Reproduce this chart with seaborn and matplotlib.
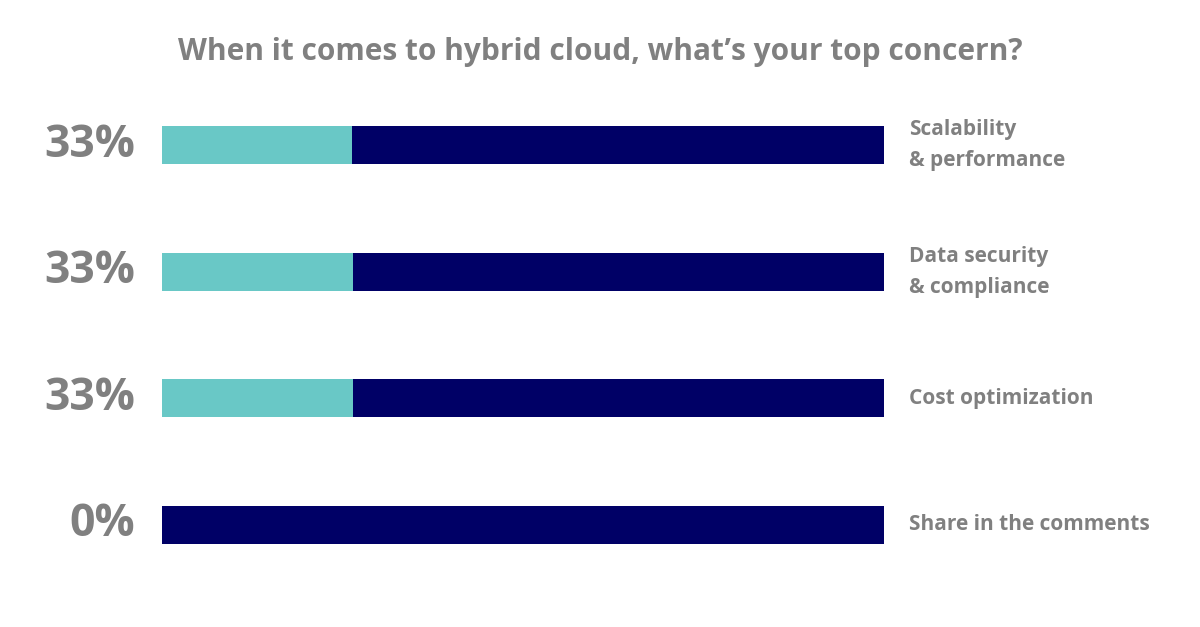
import pandas as pd
import matplotlib.pyplot as plt
import seaborn as sns

# poll answers
answers = ["Scalability\n& performance", "Data security\n& compliance",
           "Cost optimization", "Share in the comments"]
pct_labels = [33, 33, 33, 0]
# teal fill length as drawn in the picture (share of the full bar)
fill = [26.3, 26.5, 26.5, 0]
track = [100, 100, 100, 100]

df = pd.DataFrame({"answer": answers, "pct": pct_labels, "fill": fill, "track": track})

sns.set_theme(style="white")
plt.rcParams['font.family'] = ['Open Sans', 'DejaVu Sans']

grey = "#808080"
fig = plt.figure(figsize=(12, 6.27), dpi=100)
ax = fig.add_axes([162 / 1200, 1 - 588 / 627, 722 / 1200, 506 / 627])

sns.barplot(data=df, x="track", y="answer", color="#000066", width=0.30,
            orient="h", ax=ax, saturation=1, linewidth=0)
sns.barplot(data=df, x="fill", y="answer", color="#69C8C6", width=0.30,
            orient="h", ax=ax, saturation=1, linewidth=0)

ax.set_xlim(0, 100)
ax.set_ylim(3.5, -0.5)
ax.axis("off")

for i, row in df.iterrows():
    ax.text(-3.7, i, f"{row['pct']}%", ha="right", va="center", fontsize=32,
            fontweight="bold", color=grey)
    ax.text(103.5, i, row["answer"], ha="left", va="center", fontsize=15,
            fontweight="bold", color=grey, linespacing=1.6)

fig.text(0.5, 1 - 52 / 627, "When it comes to hybrid cloud, what\u2019s your top concern?",
         ha="center", va="center", fontsize=21.5, fontweight="bold", color=grey)

fig.savefig("out.png", dpi=100, facecolor="white")
